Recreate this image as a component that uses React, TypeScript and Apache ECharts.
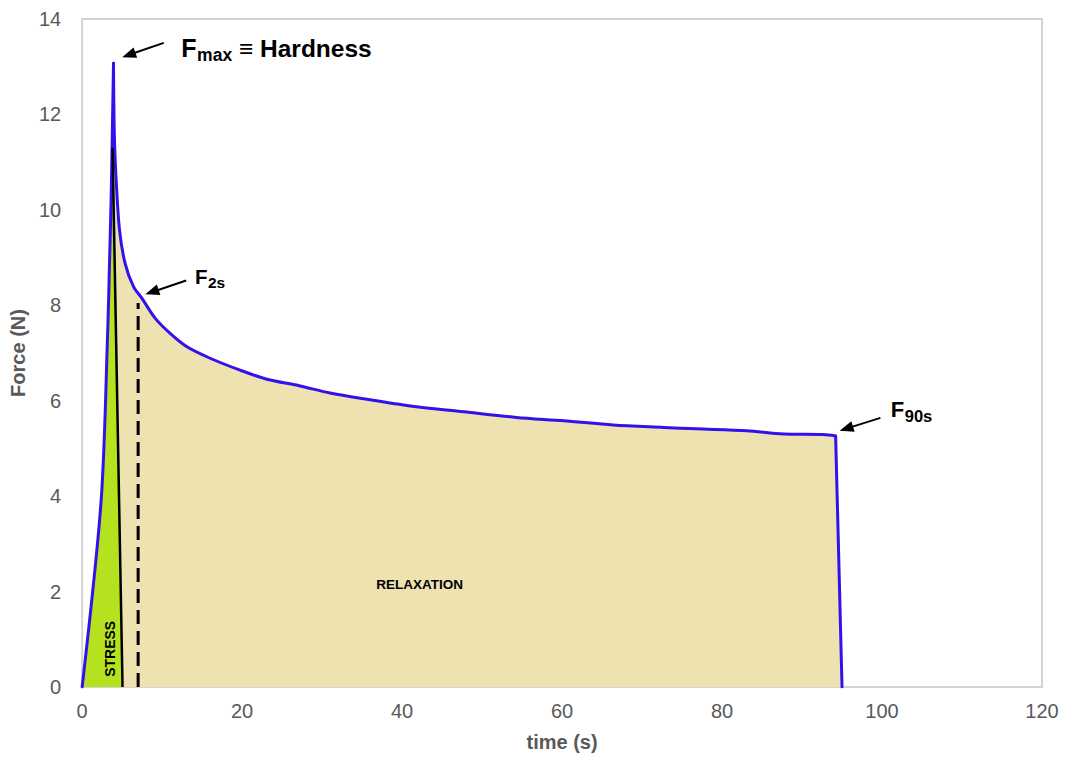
import React, { useEffect, useRef } from "react";
import * as echarts from "echarts";

// Axis ranges / tick spacing
const xMin = 0;
const xMax = 120;
const xStep = 20;
const yMin = 0;
const yMax = 14;
const yStep = 2;

// Loading ramp: time (s) and force (N), ending at the peak
const loadTime = [0, 2.38, 3.2, 3.42, 3.63, 3.92];
const loadForce = [0, 3.92, 7.48, 8.88, 10.28, 13.07];

// Relaxation after the peak
const relaxTime = [4.02, 4.25, 4.67, 5.37, 6.42, 7.46, 9.12, 11, 13.1, 16, 19.75, 23.1, 27.25, 31, 35.2, 41, 47.7, 54.3, 60.2, 66.4, 72.7, 76.8, 83.1, 87.7, 92.7, 94.2];
const relaxForce = [11.6, 10.63, 9.58, 8.88, 8.39, 8.15, 7.73, 7.41, 7.13, 6.89, 6.64, 6.45, 6.31, 6.16, 6.04, 5.89, 5.77, 5.65, 5.58, 5.49, 5.44, 5.41, 5.37, 5.3, 5.29, 5.26];

// Unloading
const unloadTime = [95];
const unloadForce = [0];

// Boundary of the stress region (solid black) and the 2 s marker (dashed)
const stressTime = [3.8, 5.05];
const stressForce = [11.3, 0];
const f2sTime = [7, 7];
const f2sForce = [0, 8.05];

// Annotation arrows: tail and tip in data units
const arrows = [
  { tail: [10.2, 13.5], tip: [5.0, 13.2] },
  { tail: [13.0, 8.52], tip: [7.9, 8.23] },
  { tail: [99.8, 5.64], tip: [94.7, 5.37] },
];

// Annotation labels: anchor = left edge / baseline of the main letter, in data units
const labelFmax = { at: [12.4, 13.21], main: "F", sub: "max", tail: " \u2261 Hardness", mainSize: 25, subSize: 17.5, tailSize: 24.5, subDrop: 4 };
const labelF2s = { at: [14.1, 8.45], main: "F", sub: "2s", tail: "", mainSize: 20.5, subSize: 15.5, tailSize: 0, subDrop: 4 };
const labelF90s = { at: [101.1, 5.66], main: "F", sub: "90s", tail: "", mainSize: 22, subSize: 16.5, tailSize: 0, subDrop: 5 };
const regionStress = { at: [3.45, 0.8], text: "STRESS" };
const regionRelax = { at: [42.2, 2.14], text: "RELAXATION" };

const FONT = "'Liberation Sans', Arial, Helvetica, sans-serif";
const BEIGE = "#eee2b0";
const LIME = "#b5e21f";
const BLUE = "#3410ec";
const SMOOTH = 0.3;

const zip = (a: number[], b: number[]) => a.map((v, i) => [v, b[i]]);

let measureCtx: CanvasRenderingContext2D | null = null;
const textWidth = (text: string, size: number) => {
  if (!measureCtx) measureCtx = document.createElement("canvas").getContext("2d");
  if (!measureCtx) return text.length * size * 0.6;
  measureCtx.font = `bold ${size}px ${FONT}`;
  return measureCtx.measureText(text).width;
};

export default function App() {
  const ref = useRef<HTMLDivElement>(null);

  useEffect(() => {
    if (!ref.current) return;
    const chart = echarts.init(ref.current, undefined, { renderer: "svg" });

    const rise = zip(loadTime, loadForce);
    const peak = rise[rise.length - 1];
    const relax = [peak, ...zip(relaxTime, relaxForce)];
    const n = relaxTime.length;
    // straight tail of the plateau plus the unloading drop
    const drop = [
      [relaxTime[n - 2], relaxForce[n - 2]],
      [relaxTime[n - 1], relaxForce[n - 1]],
      ...zip(unloadTime, unloadForce),
    ];
    const stressArea = [
      ...zip(loadTime.slice(0, -1), loadForce.slice(0, -1)),
      ...zip(stressTime, stressForce),
    ];

    const axisLabel = { color: "#595959", fontSize: 20, fontFamily: FONT };
    const nameStyle = { color: "#595959", fontSize: 20, fontWeight: "bold" as const, fontFamily: FONT };

    const areaPiece = (name: string, data: number[][], smooth: number | false) => ({
      name,
      type: "line",
      data,
      smooth,
      showSymbol: false,
      lineStyle: { width: 0 },
      areaStyle: { color: BEIGE, opacity: 1 },
      z: 1,
    });
    const linePiece = (name: string, data: number[][], smooth: number | false) => ({
      name,
      type: "line",
      data,
      smooth,
      showSymbol: false,
      lineStyle: { color: BLUE, width: 3, cap: "round", join: "round" },
      z: 3,
    });

    chart.setOption({
      animation: false,
      backgroundColor: "#ffffff",
      grid: {
        left: 82,
        right: 23,
        top: 19,
        bottom: 71,
        show: true,
        borderColor: "#d4d4d4",
        borderWidth: 2,
        backgroundColor: "transparent",
      },
      xAxis: {
        type: "value",
        min: xMin,
        max: xMax,
        interval: xStep,
        axisLine: { show: false },
        axisTick: { show: false },
        splitLine: { show: false },
        axisLabel: { ...axisLabel, margin: 14 },
        name: "time (s)",
        nameLocation: "middle",
        nameGap: 45,
        nameTextStyle: nameStyle,
      },
      yAxis: {
        type: "value",
        min: yMin,
        max: yMax,
        interval: yStep,
        axisLine: { show: false },
        axisTick: { show: false },
        splitLine: { show: false },
        axisLabel: { ...axisLabel, margin: 21 },
        name: "Force (N)",
        nameLocation: "middle",
        nameGap: 53,
        nameTextStyle: nameStyle,
      },
      series: [
        areaPiece("loading area", rise, SMOOTH),
        areaPiece("relaxation area", relax, SMOOTH),
        areaPiece("unloading area", drop, false),
        {
          name: "stress area",
          type: "line",
          data: stressArea,
          showSymbol: false,
          lineStyle: { width: 0 },
          areaStyle: { color: LIME, opacity: 1 },
          z: 2,
        },
        linePiece("loading", rise, SMOOTH),
        linePiece("relaxation", relax, SMOOTH),
        linePiece("unloading", drop.slice(1), false),
        {
          name: "stress boundary",
          type: "line",
          data: zip(stressTime, stressForce),
          showSymbol: false,
          lineStyle: { color: "#000000", width: 2.5 },
          z: 4,
        },
        {
          name: "F2s marker",
          type: "line",
          data: zip(f2sTime, f2sForce),
          showSymbol: false,
          lineStyle: { color: "#000000", width: 3, type: [14, 7] },
          z: 4,
        },
      ],
    });

    const px = (p: number[]) => chart.convertToPixel({ gridIndex: 0 }, p) as number[];

    const graphics: any[] = [];

    arrows.forEach((a) => {
      const [x1, y1] = px(a.tail);
      const [x2, y2] = px(a.tip);
      const dx = x2 - x1;
      const dy = y2 - y1;
      const len = Math.hypot(dx, dy);
      const ux = dx / len;
      const uy = dy / len;
      const headLen = 14;
      const headHalf = 5.5;
      const bx = x2 - ux * headLen;
      const by = y2 - uy * headLen;
      graphics.push({
        type: "line",
        shape: { x1, y1, x2: bx + ux * 2, y2: by + uy * 2 },
        style: { stroke: "#000", lineWidth: 2 },
        z: 10,
      });
      graphics.push({
        type: "polygon",
        shape: {
          points: [
            [x2, y2],
            [bx - uy * headHalf, by + ux * headHalf],
            [bx + uy * headHalf, by - ux * headHalf],
          ],
        },
        style: { fill: "#000" },
        z: 10,
      });
    });

    // text piece placed by its alphabetic baseline
    const piece = (text: string, x: number, baseline: number, size: number) => ({
      type: "text",
      x,
      y: baseline - size * 0.3465,
      z: 10,
      style: {
        text,
        align: "left",
        verticalAlign: "middle",
        fill: "#000",
        fontFamily: FONT,
        fontWeight: "bold",
        fontSize: size,
      },
    });

    [labelFmax, labelF2s, labelF90s].forEach((l) => {
      const [x, base] = px(l.at);
      graphics.push(piece(l.main, x, base, l.mainSize));
      const sx = x + textWidth(l.main, l.mainSize) + 0.5;
      graphics.push(piece(l.sub, sx, base + l.subDrop, l.subSize));
      if (l.tail) {
        const tx = sx + textWidth(l.sub, l.subSize);
        graphics.push(piece(l.tail, tx, base, l.tailSize));
      }
    });

    {
      const [x, y] = px(regionStress.at);
      graphics.push({
        type: "text",
        x,
        y,
        rotation: Math.PI / 2,
        z: 10,
        style: {
          text: regionStress.text,
          align: "center",
          verticalAlign: "middle",
          fill: "#000",
          fontFamily: FONT,
          fontWeight: "bold",
          fontSize: 14,
        },
      });
    }
    {
      const [x, y] = px(regionRelax.at);
      graphics.push({
        type: "text",
        x,
        y,
        z: 10,
        style: {
          text: regionRelax.text,
          align: "center",
          verticalAlign: "middle",
          fill: "#000",
          fontFamily: FONT,
          fontWeight: "bold",
          fontSize: 13.5,
        },
      });
    }

    chart.setOption({ graphic: graphics });

    return () => chart.dispose();
  }, []);

  return (
    <div
      ref={ref}
      style={{ position: "fixed", left: 0, top: 0, width: 1065, height: 758, background: "#fff" }}
    />
  );
}
